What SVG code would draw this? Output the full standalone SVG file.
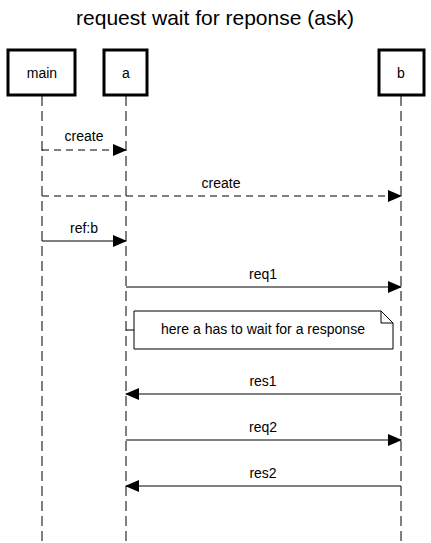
<svg xmlns="http://www.w3.org/2000/svg" width="431" height="543" viewBox="0 0 431 543">
<style>
text{font-family:"Liberation Sans",Arial,sans-serif;fill:#000}
.lbl{font-size:14px;text-anchor:middle}
.box{fill:#fff;stroke:#000;stroke-width:3}
.life{stroke:#000;stroke-width:1;stroke-dasharray:10,5;fill:none}
.msg{stroke:#000;stroke-width:1;fill:none}
.dash{stroke-dasharray:7,5}
</style>
<defs>
<marker id="ah" markerWidth="14" markerHeight="12" refX="13" refY="6" orient="auto" markerUnits="userSpaceOnUse">
<path d="M0,0 L14,6 L0,12 z" fill="#000"/>
</marker>
</defs>
<rect width="431" height="543" fill="#fff"/>
<text x="215" y="25" font-size="21" text-anchor="middle">request wait for reponse (ask)</text>
<g id="lifelines">
<line class="life" x1="42" y1="96" x2="42" y2="543"/>
<line class="life" x1="126" y1="96" x2="126" y2="543"/>
<line class="life" x1="401" y1="96" x2="401" y2="543"/>
</g>
<g id="main"><rect class="box" x="8" y="50" width="67" height="45"/><text class="lbl" x="42" y="78">main</text></g>
<g id="a"><rect class="box" x="104" y="50" width="43" height="45"/><text class="lbl" x="126" y="78">a</text></g>
<g id="b"><rect class="box" x="379" y="50" width="45" height="45"/><text class="lbl" x="401" y="78">b</text></g>
<g id="note">
<path d="M126,330 H134" stroke="#000" fill="none"/>
<path d="M134,311 H381 L393,323 V349 H134 Z" fill="#fff" stroke="#000"/>
<path d="M381,311 V323 H393" fill="none" stroke="#000"/>
<text class="lbl" x="263" y="334">here a has to wait for a response</text>
</g>
<g id="connectors">
<line class="msg dash" x1="42" y1="150" x2="126" y2="150" marker-end="url(#ah)"/>
<text class="lbl" x="84" y="141">create</text>
<line class="msg dash" x1="42" y1="196" x2="401" y2="196" marker-end="url(#ah)"/>
<text class="lbl" x="221" y="188">create</text>
<line class="msg" x1="42" y1="241" x2="126" y2="241" marker-end="url(#ah)"/>
<text class="lbl" x="84" y="233">ref:b</text>
<line class="msg" x1="126" y1="287" x2="401" y2="287" marker-end="url(#ah)"/>
<text class="lbl" x="263" y="279">req1</text>
<line class="msg" x1="401" y1="394" x2="126" y2="394" marker-end="url(#ah)"/>
<text class="lbl" x="263" y="386">res1</text>
<line class="msg" x1="126" y1="440" x2="401" y2="440" marker-end="url(#ah)"/>
<text class="lbl" x="263" y="432">req2</text>
<line class="msg" x1="401" y1="486" x2="126" y2="486" marker-end="url(#ah)"/>
<text class="lbl" x="263" y="478">res2</text>
</g>
</svg>
